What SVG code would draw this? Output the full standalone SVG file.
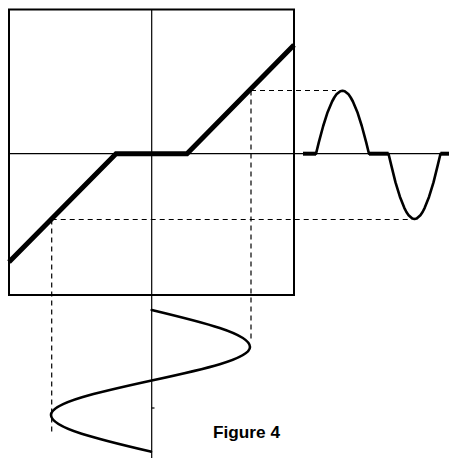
<svg xmlns="http://www.w3.org/2000/svg" width="449" height="458" viewBox="0 0 449 458">
  <style>
    .axis { stroke: #000; stroke-width: 1.2; fill: none; }
    .frame { stroke: #000; stroke-width: 2; fill: none; }
    .dash { stroke: #000; stroke-width: 1.2; fill: none; stroke-dasharray: 5 4; }
    .thick { stroke: #000; stroke-width: 5; fill: none; stroke-linejoin: miter; }
    .wave { stroke: #000; stroke-width: 2.6; fill: none; stroke-linejoin: round; stroke-linecap: round; }
    .flat { stroke: #000; stroke-width: 4; fill: none; }
    .label { font-family: "Liberation Sans", Arial, sans-serif; font-weight: bold; font-size: 17px; fill: #000; }
  </style>
  <rect width="449" height="458" fill="#fff"/>
  <g id="frame">
    <rect class="frame" x="9" y="9.5" width="285" height="285.5"/>
  </g>
  <g id="axes">
    <line class="axis" x1="9" y1="153.7" x2="449" y2="153.7"/>
    <line class="axis" x1="151.7" y1="9" x2="151.7" y2="458"/>
    <line class="axis" x1="151.7" y1="408" x2="154.5" y2="408"/>
  </g>
  <g id="transfer-curve">
    <polyline class="thick" points="9,262 116,153.7 187,153.7 294,45"/>
  </g>
  <g id="connectors">
    <line class="dash" x1="251" y1="90.5" x2="336" y2="90.5"/>
    <line class="dash" x1="51.7" y1="219.5" x2="410" y2="219.5"/>
    <line class="dash" x1="51.7" y1="219.5" x2="51.7" y2="432"/>
    <line class="dash" x1="251" y1="90.5" x2="251" y2="340"/>
  </g>
  <g id="output-wave">
    <path class="wave" d="M316,153.7 L318.8,142.4 L323.2,126 L327.6,112.2 L332.1,101.5 L334.3,97.5 L336.5,94.3 L340.3,91.2 L342.5,90.7 L344.7,91.2 L348.5,94.3 L350.7,97.5 L352.9,101.5 L357.4,112.2 L361.8,126 L366.2,142.4 L369,153.7"/>
    <path class="wave" d="M388.5,153.7 L391.3,165.4 L395.5,182.4 L399.9,196.7 L404.3,207.8 L406.4,212 L408.6,215.2 L412.3,218.5 L414.5,219 L416.7,218.5 L420.4,215.2 L422.6,212 L424.7,207.8 L429.1,196.7 L433.5,182.4 L437.7,165.4 L440.5,153.7"/>
    <line class="flat" x1="303" y1="153.7" x2="316" y2="153.7"/>
    <line class="flat" x1="369" y1="153.7" x2="388.5" y2="153.7"/>
    <line class="flat" x1="440.5" y1="153.7" x2="449" y2="153.7"/>
  </g>
  <g id="input-wave">
    <path class="wave" d="M151.7,310 C202.1,322.1 250,333.6 250,347 C250,359.1 202.1,369.6 151.7,380.5 C100.1,391.75 51,402.5 51,415 C51,428.3 99.8,439.7 151,451.7"/>
  </g>
  <g id="caption">
    <text class="label" x="213" y="438" textLength="67" lengthAdjust="spacingAndGlyphs">Figure 4</text>
  </g>
</svg>
